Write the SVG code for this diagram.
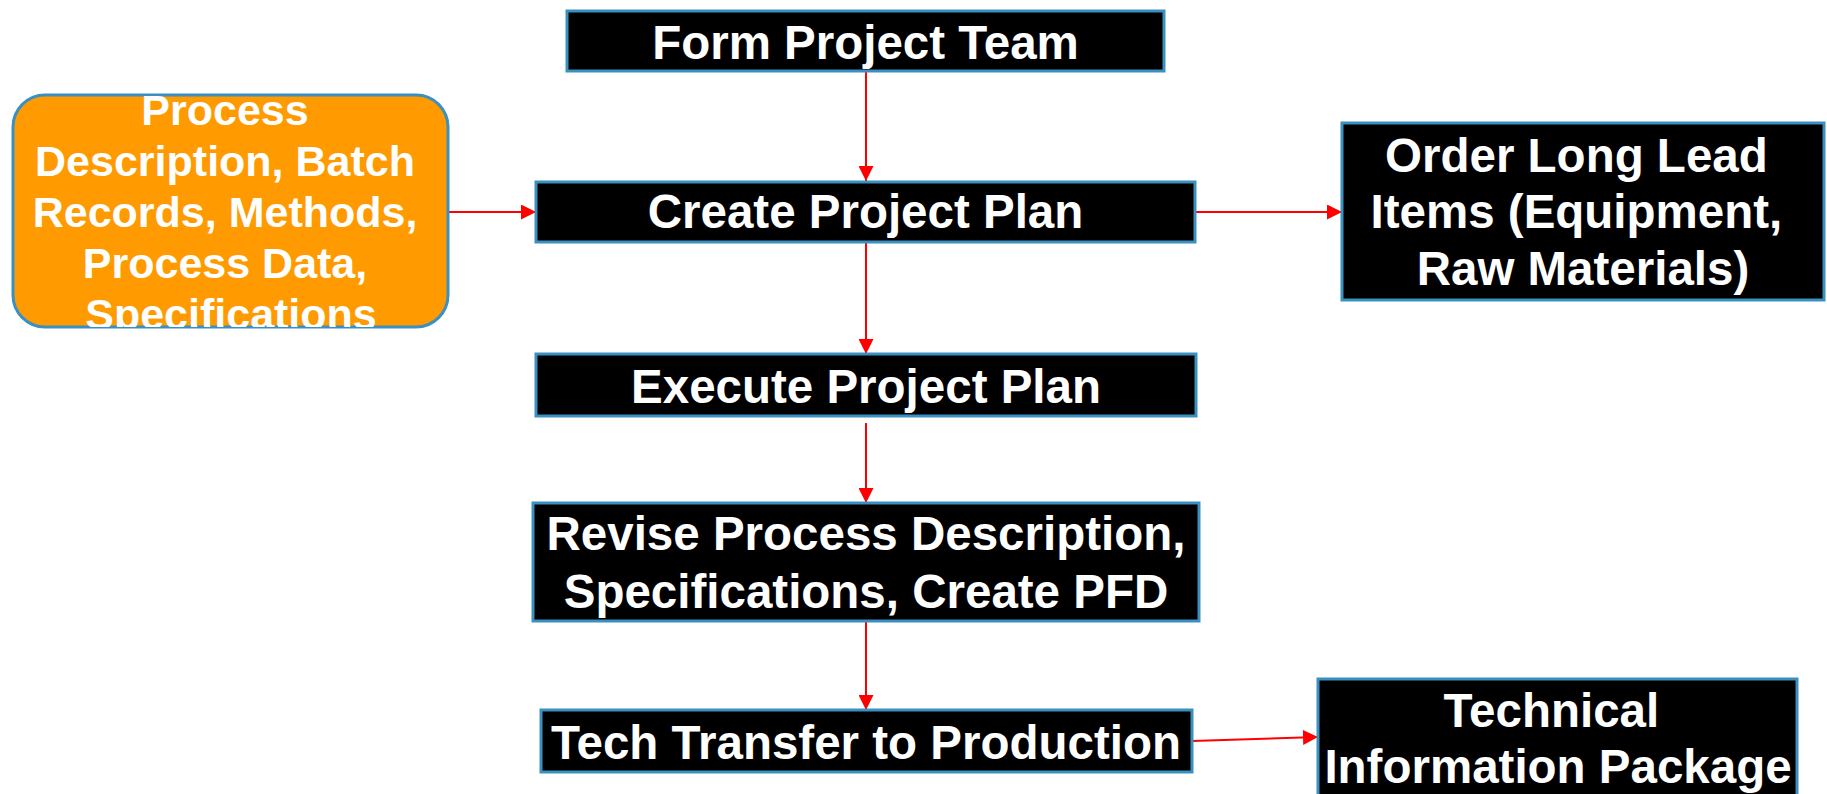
<svg xmlns="http://www.w3.org/2000/svg" width="1827" height="794" viewBox="0 0 1827 794">
<style>
.box{fill:#000;stroke:#3a90c0;stroke-width:3}
.org{fill:#ff9a00;stroke:#3a90c0;stroke-width:3}
.t{font-family:"Liberation Sans",Arial,sans-serif;font-weight:bold;fill:#fff;text-anchor:middle}
.c{stroke:#ff0000;stroke-width:2;fill:none;marker-end:url(#ah)}
</style>
<defs>
<marker id="ah" viewBox="0 0 15 15" refX="15" refY="7.5" markerWidth="15" markerHeight="15" markerUnits="userSpaceOnUse" orient="auto">
<path d="M0,0 L15,7.5 L0,15 Z" fill="#ff0000"/>
</marker>
<clipPath id="clipOrg"><rect x="0" y="60" width="470" height="267"/></clipPath>
</defs>
<rect width="1827" height="794" fill="#fff"/>
<g id="connectors">
<line class="c" x1="866" y1="71" x2="866" y2="181"/>
<line class="c" x1="448" y1="212" x2="536" y2="212"/>
<line class="c" x1="1195" y1="212" x2="1342" y2="212"/>
<line class="c" x1="866" y1="242" x2="866" y2="354"/>
<line class="c" x1="866" y1="423" x2="866" y2="503"/>
<line class="c" x1="866" y1="621" x2="866" y2="710"/>
<line class="c" x1="1192" y1="741" x2="1318" y2="737"/>
</g>
<g id="form-team">
<rect class="box" x="567" y="11" width="597" height="60"/>
<text class="t" x="865.5" y="59" font-size="47.5">Form Project Team</text>
</g>
<g id="inputs">
<rect class="org" x="13" y="95" width="435" height="232" rx="32" ry="32"/>
<g clip-path="url(#clipOrg)">
<text class="t" font-size="43">
<tspan x="231" y="125">Process</tspan>
<tspan x="231" y="176">Description, Batch</tspan>
<tspan x="231" y="227">Records, Methods,</tspan>
<tspan x="231" y="278">Process Data,</tspan>
<tspan x="231" y="329">Specifications</tspan>
</text>
</g>
</g>
<g id="create-plan">
<rect class="box" x="536" y="182" width="659" height="60"/>
<text class="t" x="865.5" y="228" font-size="47.5">Create Project Plan</text>
</g>
<g id="order-items">
<rect class="box" x="1342" y="123" width="482" height="177"/>
<text class="t" font-size="47.5">
<tspan x="1583" y="172">Order Long Lead</tspan>
<tspan x="1583" y="228">Items (Equipment,</tspan>
<tspan x="1583" y="285">Raw Materials)</tspan>
</text>
</g>
<g id="execute-plan">
<rect class="box" x="536" y="354" width="660" height="62"/>
<text class="t" x="866" y="403" font-size="47.5">Execute Project Plan</text>
</g>
<g id="revise">
<rect class="box" x="533" y="503" width="666" height="118"/>
<text class="t" x="866" y="550" font-size="47.5">Revise Process Description,</text>
<text class="t" x="866" y="608" font-size="47.5">Specifications, Create PFD</text>
</g>
<g id="tech-transfer">
<rect class="box" x="541" y="710" width="651" height="62"/>
<text class="t" x="866" y="759" font-size="47.5">Tech Transfer to Production</text>
</g>
<g id="tech-package">
<rect class="box" x="1318" y="679" width="479" height="140"/>
<text class="t" font-size="47.5">
<tspan x="1558" y="727">Technical</tspan>
<tspan x="1558" y="783">Information Package</tspan>
</text>
</g>
</svg>
